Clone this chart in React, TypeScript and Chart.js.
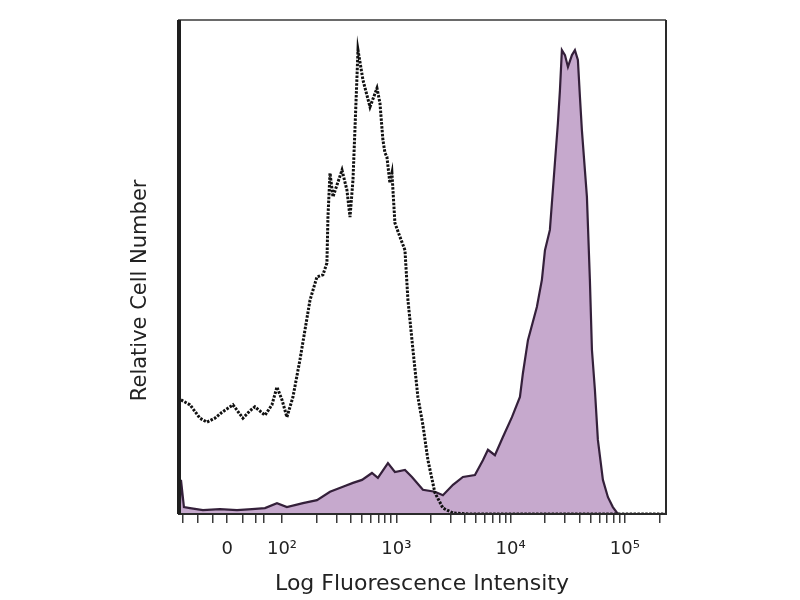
import React, { useEffect, useRef } from "react";
import { Chart, registerables } from "chart.js";

Chart.register(...registerables);

// Axis in display units (decades on a biexponential-like scale)
const xMin = 1.09;
const xMax = 5.36;
const majorTickPositions = [1.52, 2, 3, 4, 5];
const majorTickLabels = ["0", "10²", "10³", "10⁴", "10⁵"];
const linearMinorTicks = [1.13, 1.26, 1.39, 1.66, 1.77, 1.84];
const decadeStarts = [2, 3, 4, 5];
const minorMultipliers = [2, 3, 4, 5, 6, 7, 8, 9];

// Unstained / isotype control (dotted line)
const controlX = [1.116, 1.195, 1.282, 1.343, 1.413, 1.475, 1.571, 1.658, 1.72, 1.763, 1.851, 1.912, 1.956, 2.0, 2.043, 2.096, 2.157, 2.245, 2.306, 2.358, 2.393, 2.402, 2.42, 2.446, 2.481, 2.525, 2.568, 2.595, 2.621, 2.638, 2.665, 2.708, 2.77, 2.831, 2.857, 2.883, 2.901, 2.918, 2.944, 2.962, 2.988, 3.032, 3.076, 3.102, 3.146, 3.189, 3.233, 3.277, 3.338, 3.408, 3.496, 3.644, 4.5, 5.36];
const controlY = [23.1, 22.1, 19.4, 18.6, 19.4, 20.6, 22.1, 19.4, 20.9, 21.7, 20.0, 22.1, 25.7, 23.1, 19.6, 23.7, 31.2, 43.3, 48.0, 48.4, 50.8, 60.1, 69.0, 64.2, 66.6, 69.6, 65.6, 60.1, 67.6, 77.7, 93.9, 87.9, 82.4, 86.2, 83.2, 75.7, 73.1, 72.3, 67.0, 69.0, 58.9, 56.1, 53.4, 43.3, 33.2, 23.7, 18.0, 10.9, 4.3, 1.2, 0.2, 0, 0, 0];

// Stained sample (filled purple)
const stainedX = [1.105, 1.116, 1.142, 1.195, 1.308, 1.457, 1.606, 1.737, 1.851, 1.956, 2.043, 2.183, 2.306, 2.42, 2.533, 2.621, 2.7, 2.787, 2.839, 2.927, 2.988, 3.076, 3.137, 3.233, 3.338, 3.408, 3.496, 3.583, 3.688, 3.758, 3.802, 3.863, 3.933, 4.012, 4.082, 4.108, 4.152, 4.23, 4.274, 4.301, 4.344, 4.388, 4.414, 4.432, 4.449, 4.476, 4.502, 4.537, 4.563, 4.589, 4.607, 4.624, 4.668, 4.694, 4.712, 4.738, 4.764, 4.808, 4.852, 4.895, 4.939, 5.36];
const stainedY = [1.0, 6.9, 1.4, 1.2, 0.8, 1.0, 0.8, 1.0, 1.2, 2.2, 1.4, 2.2, 2.8, 4.5, 5.5, 6.3, 6.9, 8.3, 7.3, 10.3, 8.5, 8.9, 7.5, 4.9, 4.5, 3.8, 5.9, 7.5, 7.9, 10.9, 13.0, 11.9, 15.6, 19.6, 23.7, 28.5, 35.2, 41.9, 47.4, 53.4, 57.5, 71.1, 79.1, 85.8, 93.9, 92.9, 90.5, 92.9, 93.9, 91.9, 84.4, 77.7, 64.2, 47.4, 33.2, 25.1, 15.0, 6.9, 3.4, 1.4, 0, 0];

const FONT = "'DejaVu Sans', 'Open Sans', sans-serif";

const framePlugin = {
  id: "frame",
  afterDatasetsDraw(chart: any) {
    const { ctx, chartArea } = chart;
    const { left, top, right, bottom } = chartArea;
    ctx.save();
    ctx.lineWidth = 2;
    ctx.strokeStyle = "#6a6a6a";
    ctx.beginPath();
    ctx.moveTo(left, top);
    ctx.lineTo(right, top);
    ctx.stroke();
    ctx.strokeStyle = "#2a2a2a";
    ctx.beginPath();
    ctx.moveTo(right, top);
    ctx.lineTo(right, bottom);
    ctx.lineTo(left, bottom);
    ctx.stroke();
    ctx.lineWidth = 4;
    ctx.strokeStyle = "#1e1e1e";
    ctx.beginPath();
    ctx.moveTo(left + 1, top);
    ctx.lineTo(left + 1, bottom);
    ctx.stroke();
    ctx.restore();
  },
};

export default function App() {
  const canvasRef = useRef<HTMLCanvasElement | null>(null);

  useEffect(() => {
    document.body.style.margin = "0";
    const canvas = canvasRef.current;
    if (!canvas) return;

    const allTicks: number[] = [...majorTickPositions, ...linearMinorTicks];
    decadeStarts.forEach((d) => {
      minorMultipliers.forEach((m) => {
        const v = d + Math.log10(m);
        if (v <= xMax) allTicks.push(v);
      });
    });
    allTicks.sort((a, b) => a - b);

    const chart = new Chart(canvas, {
      type: "line",
      data: {
        datasets: [
          {
            label: "Control",
            data: controlX.map((x, i) => ({ x, y: controlY[i] })),
            borderColor: "#111111",
            borderWidth: 3,
            borderDash: [2.5, 1.4],
            fill: false,
            pointRadius: 0,
            tension: 0,
            order: 1,
          },
          {
            label: "Stained",
            data: stainedX.map((x, i) => ({ x, y: stainedY[i] })),
            borderColor: "#34203a",
            backgroundColor: "#c6a9cd",
            borderWidth: 2.2,
            fill: "origin",
            pointRadius: 0,
            tension: 0,
            order: 2,
          },
        ],
      },
      options: {
        animation: false,
        responsive: false,
        layout: { padding: { left: 128, right: 134, top: 20, bottom: 3 } },
        plugins: {
          legend: { display: false },
          tooltip: { enabled: false },
        },
        scales: {
          x: {
            type: "linear",
            min: xMin,
            max: xMax,
            afterBuildTicks: (scale: any) => {
              scale.ticks = allTicks.map((v) => ({ value: v }));
            },
            afterFit: (scale: any) => {
              scale.height = 83;
            },
            grid: {
              display: true,
              drawOnChartArea: false,
              drawTicks: true,
              tickLength: 9,
              color: "#3a3a3a",
              lineWidth: 1.5,
            },
            border: { display: false },
            ticks: {
              autoSkip: false,
              maxRotation: 0,
              minRotation: 0,
              padding: 16,
              color: "#222222",
              font: { family: FONT, size: 18 },
              callback: (value: any) => {
                const i = majorTickPositions.findIndex((p) => Math.abs(p - Number(value)) < 1e-6);
                return i >= 0 ? majorTickLabels[i] : "";
              },
            },
            title: {
              display: true,
              text: "Log Fluorescence Intensity",
              color: "#222222",
              font: { family: FONT, size: 22 },
              padding: 0,
            },
          },
          y: {
            min: 0,
            max: 100,
            afterFit: (scale: any) => {
              scale.width = 50;
            },
            grid: { display: false },
            border: { display: false },
            ticks: { display: false },
            title: {
              display: true,
              text: "Relative Cell Number       ",
              color: "#222222",
              font: { family: FONT, size: 21 },
              padding: 0,
            },
          },
        },
      },
      plugins: [framePlugin],
    });

    return () => {
      chart.destroy();
    };
  }, []);

  return (
    <div style={{ width: 800, height: 600, background: "#ffffff" }}>
      <canvas ref={canvasRef} width={800} height={600} />
    </div>
  );
}
